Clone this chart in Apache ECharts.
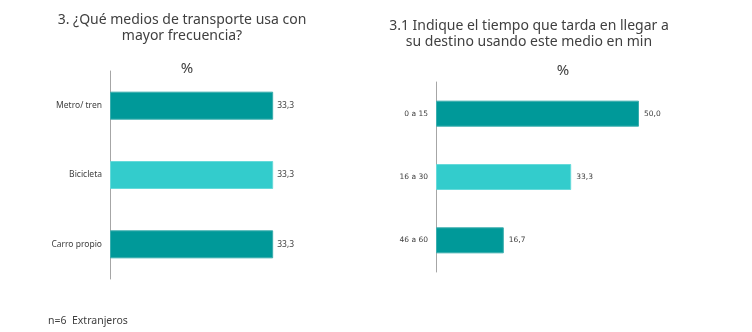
<!DOCTYPE html>
<html><head><meta charset="utf-8">
<script src="https://cdn.jsdelivr.net/npm/echarts@6/dist/echarts.min.js"></script>
<style>html,body{margin:0;padding:0;background:#fff}#c{width:752px;height:332px}</style>
</head><body><div id="c"></div>
<script>
const leftCategories = ['Metro/ tren', 'Bicicleta', 'Carro propio'];
const leftValues = [33.3, 33.3, 33.3];
const rightCategories = ['0 a 15', '16 a 30', '46 a 60'];
const rightValues = [50.0, 33.3, 16.7];
const leftTitle = '3. ¿Qué medios de transporte usa con\nmayor frecuencia?';
const rightTitle = '3.1 Indique el tiempo que tarda en llegar a\nsu destino usando este medio en min';
const unitLabel = '%';
const footnote = 'n=6  Extranjeros';

const DARK = '#009999', LIGHT = '#33CCCC';
const colorsFor = (n) => Array.from({length: n}, (_, i) => i % 2 === 0 ? DARK : LIGHT);
const borderFor = (c) => c === DARK ? '#3aaeae' : '#66dada';
const FONT = 'Noto Sans';
const TXT = '#404040';

function mkData(vals) {
  const cols = colorsFor(vals.length);
  return vals.map((v, i) => ({value: v, itemStyle: {color: cols[i], borderColor: borderFor(cols[i]), borderWidth: 1}}));
}

const chart = echarts.init(document.getElementById('c'));
chart.setOption({
  animation: false,
  textStyle: {fontFamily: FONT},
  title: [
    {text: leftTitle, left: 177, top: 7, textAlign: 'center',
     textStyle: {fontFamily: FONT, fontSize: 14, fontWeight: 'normal', color: TXT, lineHeight: 16, align: 'center'}},
    {text: rightTitle, left: 524, top: 13, textAlign: 'center',
     textStyle: {fontFamily: FONT, fontSize: 14, fontWeight: 'normal', color: TXT, lineHeight: 16, align: 'center'}},
    {text: unitLabel, left: 182, top: 56, textAlign: 'center',
     textStyle: {fontFamily: FONT, fontSize: 15, fontWeight: 'normal', color: TXT}},
    {text: unitLabel, left: 558, top: 58, textAlign: 'center',
     textStyle: {fontFamily: FONT, fontSize: 15, fontWeight: 'normal', color: TXT}},
    {text: footnote, left: 43, top: 311,
     textStyle: {fontFamily: FONT, fontSize: 10.5, fontWeight: 'normal', color: TXT}}
  ],
  grid: [
    {left: 110, top: 71, width: 196, height: 208},
    {left: 436, top: 82, width: 243.6, height: 190}
  ],
  xAxis: [
    {type: 'value', gridIndex: 0, min: 0, max: 40, show: false},
    {type: 'value', gridIndex: 1, min: 0, max: 60, show: false}
  ],
  yAxis: [
    {type: 'category', gridIndex: 0, data: leftCategories, inverse: true,
     axisLine: {lineStyle: {color: '#A6A6A6', width: 1}}, axisTick: {show: false},
     axisLabel: {fontFamily: FONT, fontSize: 8.5, color: TXT, margin: 8}},
    {type: 'category', gridIndex: 1, data: rightCategories, inverse: true,
     axisLine: {lineStyle: {color: '#A6A6A6', width: 1}}, axisTick: {show: false},
     axisLabel: {fontFamily: 'DejaVu Sans', fontSize: 7.5, color: TXT, margin: 8}}
  ],
  series: [
    {type: 'bar', xAxisIndex: 0, yAxisIndex: 0, data: mkData(leftValues), barWidth: 28,
     label: {show: true, position: 'right', distance: 4, fontFamily: FONT, fontSize: 8.5, color: TXT,
       formatter: p => p.value.toFixed(1).replace('.', ',')}},
    {type: 'bar', xAxisIndex: 1, yAxisIndex: 1, data: mkData(rightValues), barWidth: 26,
     label: {show: true, position: 'right', distance: 5, fontFamily: 'DejaVu Sans', fontSize: 7.5, color: TXT,
       formatter: p => p.value.toFixed(1).replace('.', ',')}}
  ]
});
</script></body></html>
